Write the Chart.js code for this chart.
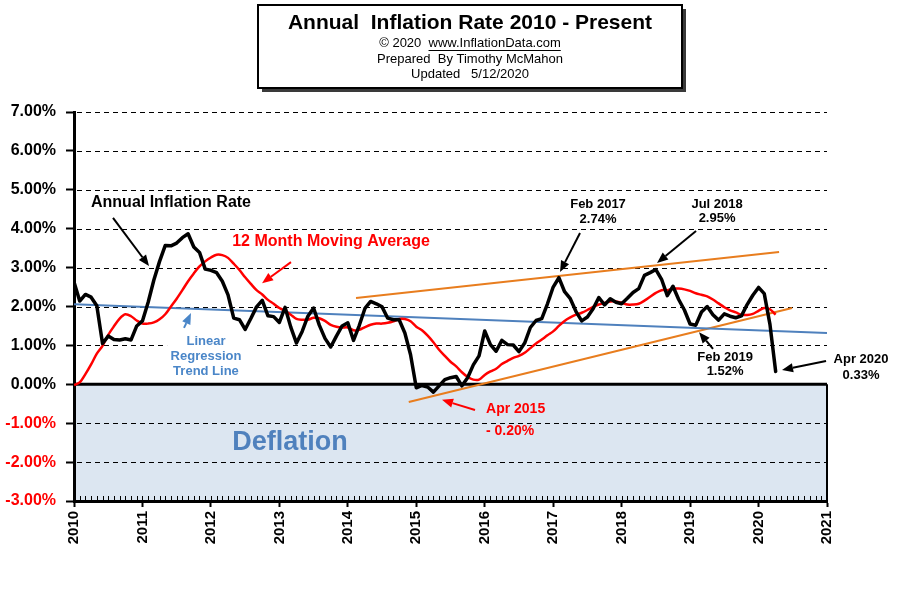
<!DOCTYPE html>
<html><head><meta charset="utf-8">
<script src="https://cdn.jsdelivr.net/npm/chart.js@4.4.0/dist/chart.umd.min.js"></script>
<style>html,body{margin:0;padding:0;background:#fff;}canvas{display:block;}</style>
</head><body>
<canvas id="c" width="901" height="613"></canvas>
<script>
// ---------- DATA ----------
const startYear = 2010;
const xTickLabels = ['2010','2011','2012','2013','2014','2015','2016','2017','2018','2019','2020','2021'];
const yTickLabels = ['-3.00%','-2.00%','-1.00%','0.00%','1.00%','2.00%','3.00%','4.00%','5.00%','6.00%','7.00%'];

// Monthly annual inflation rate, Jan 2010 .. Apr 2020 (%)
const inflation = [
  2.63, 2.14, 2.31, 2.24, 2.02, 1.05, 1.24, 1.15, 1.14, 1.17, 1.14, 1.50,
  1.63, 2.11, 2.68, 3.16, 3.57, 3.56, 3.63, 3.77, 3.87, 3.53, 3.39, 2.96,
  2.93, 2.87, 2.65, 2.30, 1.70, 1.66, 1.41, 1.69, 1.99, 2.16, 1.76, 1.74,
  1.59, 1.98, 1.47, 1.06, 1.36, 1.75, 1.96, 1.52, 1.18, 0.96, 1.24, 1.50,
  1.58, 1.13, 1.51, 1.95, 2.13, 2.07, 1.99, 1.70, 1.66, 1.66, 1.32, 0.76,
  -0.09, -0.03, -0.07, -0.20, -0.04, 0.12, 0.17, 0.20, -0.04, 0.17, 0.50, 0.73,
  1.37, 1.02, 0.85, 1.13, 1.02, 1.01, 0.84, 1.06, 1.46, 1.64, 1.69, 2.07,
  2.50, 2.74, 2.38, 2.20, 1.87, 1.63, 1.73, 1.94, 2.23, 2.04, 2.20, 2.11,
  2.07, 2.21, 2.36, 2.46, 2.80, 2.87, 2.95, 2.70, 2.28, 2.52, 2.18, 1.91,
  1.55, 1.52, 1.86, 2.00, 1.79, 1.65, 1.81, 1.75, 1.71, 1.76, 2.05, 2.29,
  2.49, 2.33, 1.54, 0.33
];

// 12 month moving average, Jan 2010 .. Apr 2020 (%)
const movingAvg = [
  -0.02, 0.05, 0.26, 0.51, 0.79, 0.99, 1.27, 1.49, 1.69, 1.80, 1.75, 1.64,
  1.56, 1.56, 1.59, 1.67, 1.80, 2.00, 2.20, 2.42, 2.65, 2.85, 3.03, 3.16,
  3.26, 3.33, 3.32, 3.25, 3.10, 2.94, 2.75, 2.58, 2.42, 2.31, 2.17, 2.07,
  1.96, 1.89, 1.79, 1.68, 1.66, 1.66, 1.71, 1.70, 1.63, 1.53, 1.48, 1.46,
  1.46, 1.39, 1.40, 1.47, 1.53, 1.56, 1.56, 1.58, 1.62, 1.68, 1.68, 1.62,
  1.48, 1.39, 1.25, 1.08, 0.89, 0.73, 0.58, 0.46, 0.31, 0.19, 0.12, 0.12,
  0.24, 0.33, 0.40, 0.52, 0.60, 0.68, 0.73, 0.81, 0.93, 1.05, 1.15, 1.26,
  1.36, 1.50, 1.63, 1.72, 1.79, 1.84, 1.91, 1.99, 2.05, 2.09, 2.13, 2.13,
  2.10, 2.05, 2.05, 2.07, 2.15, 2.25, 2.35, 2.42, 2.42, 2.46, 2.46, 2.44,
  2.40, 2.34, 2.30, 2.26, 2.18, 2.08, 1.98, 1.90, 1.85, 1.79, 1.78, 1.81,
  1.89, 1.96, 1.93, 1.79
];

const trendLine    = [{x:2010, y:2.06}, {x:2021, y:1.32}];
const upperChannel = [{x:2014.12, y:2.22}, {x:2020.30, y:3.40}];
const lowerChannel = [{x:2014.89, y:-0.455}, {x:2020.49, y:1.96}];

// ---------- STYLE / LAYOUT ----------
const FF = '"Liberation Sans", Arial, Helvetica, sans-serif';
const STEEL = '#4f81bd';
const ORANGE = '#e87d1e';

// white backing box behind the regression label (hides the grid line there)
const labelBoxes = [
  {x0: 2011.36, x1: 2012.65, y0: 1.31, y1: 0.10}
];

const annotations = [
  {type:'text', text:'Annual Inflation Rate', x:2011.417, y:4.66, color:'#000', size:16},
  {type:'arrow', from:[2010.570,4.28], to:[2011.096,3.04], color:'#000'},
  {type:'text', text:'12 Month Moving Average', x:2013.755, y:3.68, color:'#ff0000', size:16},
  {type:'arrow', from:[2013.170,3.14], to:[2012.747,2.60], color:'#ff0000'},
  {type:'text', text:'Linear', x:2011.928, y:1.09, color:'#4a86c8', size:13},
  {type:'text', text:'Regression', x:2011.928, y:0.71, color:'#4a86c8', size:13},
  {type:'text', text:'Trend Line', x:2011.928, y:0.34, color:'#4a86c8', size:13},
  {type:'arrow', from:[2011.607,1.45], to:[2011.709,1.83], color:'#4a86c8'},
  {type:'text', text:'Feb 2017', x:2017.655, y:4.63, color:'#000', size:13},
  {type:'text', text:'2.74%', x:2017.655, y:4.25, color:'#000', size:13},
  {type:'arrow', from:[2017.392,3.89], to:[2017.100,2.89], color:'#000'},
  {type:'text', text:'Jul 2018', x:2019.394, y:4.63, color:'#000', size:13},
  {type:'text', text:'2.95%', x:2019.394, y:4.27, color:'#000', size:13},
  {type:'arrow', from:[2019.087,3.94], to:[2018.517,3.12], color:'#000'},
  {type:'text', text:'Feb 2019', x:2019.511, y:0.70, color:'#000', size:13},
  {type:'text', text:'1.52%', x:2019.511, y:0.32, color:'#000', size:13},
  {type:'arrow', from:[2019.335,0.91], to:[2019.131,1.34], color:'#000'},
  {type:'text', text:'Apr 2020', x:2021.497, y:0.65, color:'#000', size:13},
  {type:'text', text:'0.33%', x:2021.497, y:0.24, color:'#000', size:13},
  {type:'arrow', from:[2020.986,0.60], to:[2020.343,0.37], color:'#000'},
  {type:'text', text:'Apr 2015', x:2016.019, y:-0.63, color:'#ff0000', size:14, align:'left'},
  {type:'text', text:'- 0.20%', x:2016.019, y:-1.20, color:'#ff0000', size:14, align:'left'},
  {type:'arrow', from:[2015.858,-0.66], to:[2015.376,-0.40], color:'#ff0000'},
  {type:'text', text:'Deflation', x:2013.156, y:-1.51, color:STEEL, size:27}
];

function drawArrow(ctx, x1, y1, x2, y2, color) {
  const ang = Math.atan2(y2 - y1, x2 - x1);
  const len = 11, half = 4.5;
  const bx = x2 - len * Math.cos(ang), by = y2 - len * Math.sin(ang);
  ctx.save();
  ctx.strokeStyle = color; ctx.fillStyle = color; ctx.lineWidth = 2;
  ctx.beginPath(); ctx.moveTo(x1, y1); ctx.lineTo(bx, by); ctx.stroke();
  ctx.beginPath();
  ctx.moveTo(x2, y2);
  ctx.lineTo(bx + half * Math.sin(ang), by - half * Math.cos(ang));
  ctx.lineTo(bx - half * Math.sin(ang), by + half * Math.cos(ang));
  ctx.closePath(); ctx.fill();
  ctx.restore();
}

const decorPlugin = {
  id: 'decor',
  beforeDraw(chart) {
    const {ctx, scales: {x, y}} = chart;
    const x0 = x.getPixelForValue(2010), x1 = x.getPixelForValue(2021);
    const yz = y.getPixelForValue(0), yb = y.getPixelForValue(-3);
    ctx.save();
    ctx.fillStyle = '#dce6f1';
    ctx.fillRect(x0, yz, x1 - x0, yb - yz);
    ctx.restore();
  },
  beforeDatasetsDraw(chart) {
    const {ctx, scales: {x, y}} = chart;
    const x0 = x.getPixelForValue(2010), x1 = x.getPixelForValue(2021);
    const yz = y.getPixelForValue(0), yb = y.getPixelForValue(-3);
    ctx.save();
    ctx.strokeStyle = '#000';
    ctx.lineWidth = 1;
    ctx.setLineDash([5, 4]);
    y.ticks.forEach(t => {
      if (t.value === 0 || t.value === -3) return;
      const py = Math.round(y.getPixelForValue(t.value)) + 0.5;
      ctx.beginPath(); ctx.moveTo(x0 + 3, py); ctx.lineTo(x1, py); ctx.stroke();
    });
    ctx.setLineDash([]);
    ctx.lineWidth = 3;
    ctx.beginPath(); ctx.moveTo(x0, yz); ctx.lineTo(x1, yz); ctx.stroke();
    ctx.lineWidth = 2;
    ctx.beginPath(); ctx.moveTo(x1, yz); ctx.lineTo(x1, yb); ctx.stroke();
    // monthly minor ticks on the x axis
    ctx.lineWidth = 1;
    for (let m = 1; m < 132; m++) {
      const px = Math.round(x.getPixelForValue(2010 + m / 12)) + 0.5;
      ctx.beginPath(); ctx.moveTo(px, yb - 5); ctx.lineTo(px, yb); ctx.stroke();
    }
    // label backing boxes
    ctx.fillStyle = '#fff';
    labelBoxes.forEach(b => {
      const bx0 = x.getPixelForValue(b.x0), bx1 = x.getPixelForValue(b.x1);
      const by0 = y.getPixelForValue(b.y0), by1 = y.getPixelForValue(b.y1);
      ctx.fillRect(bx0, by0, bx1 - bx0, by1 - by0);
    });
    ctx.restore();
  },
  afterDraw(chart) {
    const {ctx, scales: {x, y}} = chart;
    // Title box
    ctx.save();
    ctx.fillStyle = '#3a3a3a';
    ctx.fillRect(262, 9, 424, 83);
    ctx.fillStyle = '#fff';
    ctx.fillRect(258, 5, 424, 83);
    ctx.strokeStyle = '#000'; ctx.lineWidth = 2;
    ctx.strokeRect(258, 5, 424, 83);
    ctx.fillStyle = '#000';
    ctx.textAlign = 'center'; ctx.textBaseline = 'middle';
    ctx.font = 'bold 21px ' + FF;
    ctx.fillText('Annual  Inflation Rate 2010 - Present', 470, 23);
    ctx.font = '13px ' + FF;
    const p1 = '\u00A9 2020  ', p2 = 'www.InflationData.com';
    const w1 = ctx.measureText(p1).width, w2 = ctx.measureText(p2).width;
    const sx = 470 - (w1 + w2) / 2;
    ctx.textAlign = 'left';
    ctx.fillText(p1, sx, 43);
    ctx.fillText(p2, sx + w1, 43);
    ctx.lineWidth = 1;
    ctx.beginPath(); ctx.moveTo(sx + w1, 50.5); ctx.lineTo(sx + w1 + w2, 50.5); ctx.stroke();
    ctx.textAlign = 'center';
    ctx.fillText('Prepared  By Timothy McMahon', 470, 59);
    ctx.fillText('Updated   5/12/2020', 470, 74);
    ctx.restore();

    // Annotations
    annotations.forEach(a => {
      if (a.type === 'text') {
        ctx.save();
        ctx.fillStyle = a.color;
        ctx.font = 'bold ' + a.size + 'px ' + FF;
        ctx.textAlign = a.align || 'center';
        ctx.textBaseline = 'middle';
        ctx.fillText(a.text, x.getPixelForValue(a.x), y.getPixelForValue(a.y));
        ctx.restore();
      } else {
        drawArrow(ctx,
          x.getPixelForValue(a.from[0]), y.getPixelForValue(a.from[1]),
          x.getPixelForValue(a.to[0]), y.getPixelForValue(a.to[1]), a.color);
      }
    });
  }
};

const monthly = arr => arr.map((v, i) => ({x: startYear + i / 12, y: v}));

new Chart(document.getElementById('c'), {
  type: 'line',
  data: {
    datasets: [
      {label: 'Annual Inflation Rate', data: monthly(inflation), borderColor: '#000', borderWidth: 3.5,
       pointRadius: 0, tension: 0, borderJoinStyle: 'round', borderCapStyle: 'round'},
      {label: '12 Month Moving Average', data: monthly(movingAvg), borderColor: '#ff0000', borderWidth: 2.5,
       pointRadius: 0, tension: 0.3},
      {label: 'Linear Regression Trend Line', data: trendLine, borderColor: STEEL, borderWidth: 2, pointRadius: 0},
      {label: 'Upper channel', data: upperChannel, borderColor: ORANGE, borderWidth: 2, pointRadius: 0},
      {label: 'Lower channel', data: lowerChannel, borderColor: ORANGE, borderWidth: 2, pointRadius: 0}
    ]
  },
  options: {
    responsive: false,
    animation: false,
    devicePixelRatio: 1,
    layout: {padding: {top: 112, right: 74, left: 0, bottom: 0}},
    plugins: {legend: {display: false}, tooltip: {enabled: false}},
    scales: {
      x: {
        type: 'linear', min: 2010, max: 2021,
        afterFit(s) { s.height = 112; },
        afterBuildTicks(s) { s.ticks = xTickLabels.map((l, i) => ({value: startYear + i})); },
        ticks: {
          autoSkip: false, minRotation: 90, maxRotation: 90, padding: 4, color: '#000',
          font: {family: FF, size: 15, weight: 'bold'},
          callback: v => xTickLabels[Math.round(v - startYear)]
        },
        grid: {drawOnChartArea: false, drawTicks: true, tickLength: 6, tickWidth: 2, tickColor: '#000'},
        border: {display: true, color: '#000', width: 3}
      },
      y: {
        min: -3, max: 7,
        afterFit(s) { s.width = 74; },
        ticks: {
          stepSize: 1, padding: 10,
          color: c => (c.tick && c.tick.value < 0) ? '#ff0000' : '#000',
          font: {family: FF, size: 16, weight: 'bold'},
          callback: v => yTickLabels[Math.round(v + 3)]
        },
        grid: {drawOnChartArea: false, drawTicks: true, tickLength: 8, tickWidth: 2, tickColor: '#000'},
        border: {display: true, color: '#000', width: 3}
      }
    }
  },
  plugins: [decorPlugin]
});
</script>
</body></html>
